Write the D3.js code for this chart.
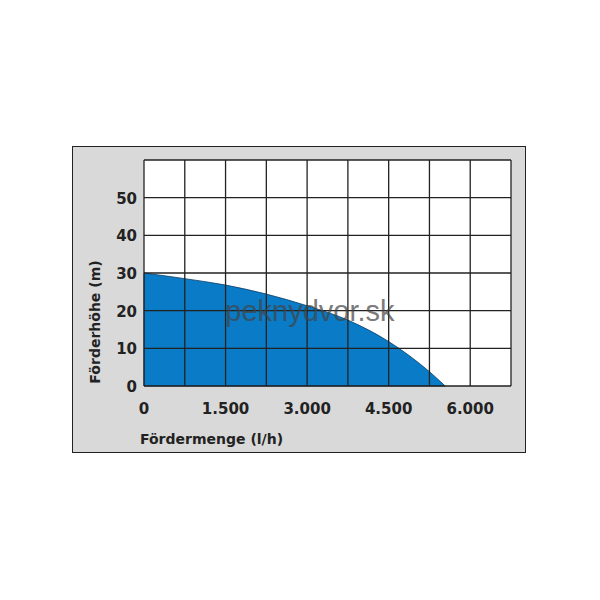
<!DOCTYPE html>
<html><head><meta charset="utf-8">
<script src="https://cdn.jsdelivr.net/npm/d3@7"></script>
<style>body{margin:0;background:#fff}</style></head>
<body><script>
const flow = [0, 750, 1500, 2250, 3000, 3750, 4500, 5250, 5540];
const head = [30, 28.5, 26.8, 24.4, 21.3, 17.5, 11.8, 3.8, 0];
const xTicks = [0, 1500, 3000, 4500, 6000];
const xTickLabels = ["0", "1.500", "3.000", "4.500", "6.000"];
const yTicks = [0, 10, 20, 30, 40, 50];
const xLabel = "Fördermenge (l/h)";
const yLabel = "Förderhöhe (m)";
const watermark = "peknydvor.sk";

const svg = d3.select("body").append("svg").attr("width", 600).attr("height", 600);
svg.append("rect").attr("x", 72.5).attr("y", 146.5).attr("width", 453).attr("height", 306)
  .attr("fill", "#d9d9d9").attr("stroke", "#222").attr("stroke-width", 1);
const x = d3.scaleLinear().domain([0, 6750]).range([144, 511]);
const y = d3.scaleLinear().domain([0, 60]).range([386, 160]);
svg.append("rect").attr("x", 144).attr("y", 160).attr("width", 367).attr("height", 226).attr("fill", "#fff");
svg.append("path").datum(flow.map((f, i) => [f, head[i]]))
  .attr("d", d3.area().x(d => x(d[0])).y0(y(0)).y1(d => y(d[1])).curve(d3.curveMonotoneX))
  .attr("fill", "#0a7bc6").attr("stroke", "#0b3d66").attr("stroke-width", 0.8);
const g = svg.append("g").attr("stroke", "#222").attr("stroke-width", 1.3);
d3.range(0, 6751, 750).forEach(v => g.append("line").attr("x1", x(v)).attr("x2", x(v)).attr("y1", 160).attr("y2", 386));
d3.range(0, 61, 10).forEach(v => g.append("line").attr("x1", 144).attr("x2", 511).attr("y1", y(v)).attr("y2", y(v)));
const font = "'DejaVu Sans', sans-serif";
svg.selectAll(".xt").data(xTicks).enter().append("text")
  .attr("x", d => x(d)).attr("y", 414).attr("text-anchor", "middle")
  .attr("font-family", font).attr("font-weight", "bold").attr("font-size", 15).attr("fill", "#222")
  .text((d, i) => xTickLabels[i]);
svg.selectAll(".yt").data(yTicks).enter().append("text")
  .attr("x", 137).attr("y", d => y(d) + 6).attr("text-anchor", "end")
  .attr("font-family", font).attr("font-weight", "bold").attr("font-size", 15).attr("fill", "#222")
  .text(d => d);
svg.append("text").attr("x", 140).attr("y", 444).attr("font-family", font).attr("font-weight", "bold")
  .attr("font-size", 14).attr("fill", "#222").text(xLabel);
svg.append("text").attr("transform", "translate(100,322) rotate(-90)").attr("text-anchor", "middle")
  .attr("font-family", font).attr("font-weight", "bold").attr("font-size", 14).attr("fill", "#222").text(yLabel);
svg.append("text").attr("x", 310).attr("y", 321).attr("text-anchor", "middle")
  .attr("font-family", "'Liberation Sans', Arial, sans-serif").attr("font-size", 29)
  .attr("fill", "#444").attr("opacity", 0.7).text(watermark);
</script></body></html>
